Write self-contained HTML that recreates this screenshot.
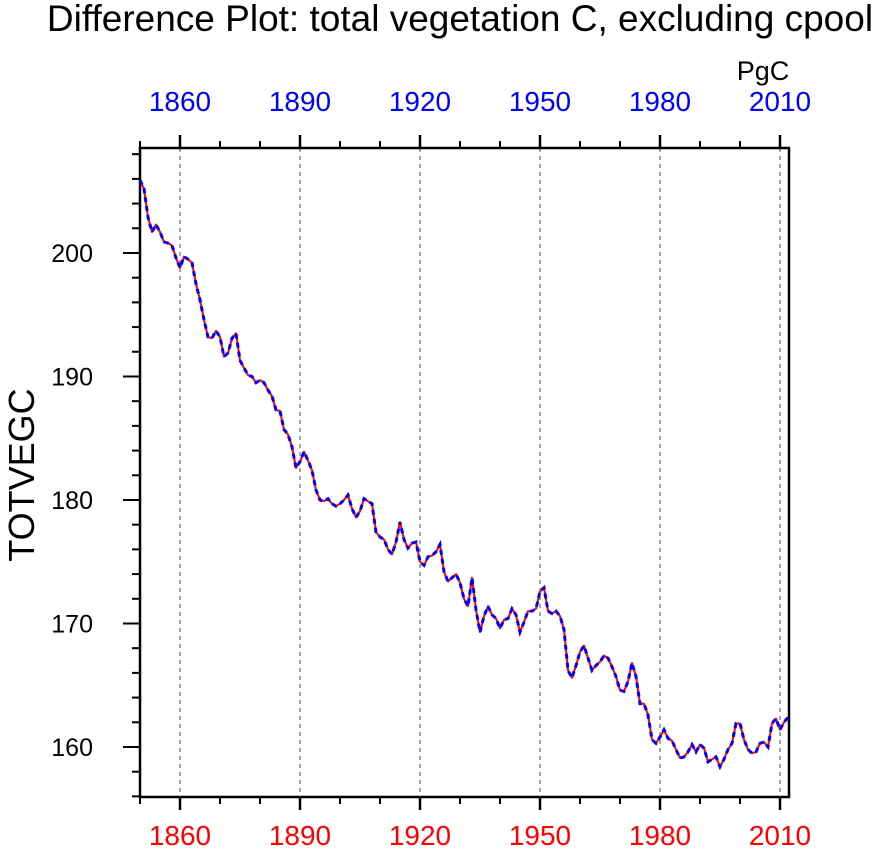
<!DOCTYPE html>
<html><head><meta charset="utf-8"><style>
body{margin:0;background:#fff;}
svg text{font-family:"Liberation Sans",Helvetica,Arial,sans-serif;}
</style></head><body>
<svg id="chart" width="876" height="857" viewBox="0 0 876 857" xmlns="http://www.w3.org/2000/svg">
<text x="460" y="31" font-size="37" text-anchor="middle">Difference Plot: total vegetation C, excluding cpool</text>
<text x="763" y="80" font-size="27" text-anchor="middle">PgC</text>
<text x="34" y="475" font-size="36" text-anchor="middle" transform="rotate(-90 34 475)">TOTVEGC</text>
<g id="grid"></g><g id="axes"></g><g id="series"></g>
</svg>
<script>
const startYear = 1850;
const values = [205.9,205.2,202.9,201.7,202.3,201.7,200.9,200.8,200.6,199.6,
198.8,199.7,199.5,199.2,197.5,196.2,194.6,193.2,193.1,193.7,
193.2,191.6,191.9,193.1,193.5,191.3,190.7,190.1,190.0,189.5,
189.7,189.5,188.9,188.4,187.3,187.2,185.7,185.3,184.3,182.6,
183.1,183.9,183.2,182.4,180.8,180.0,179.9,180.1,179.7,179.5,
179.7,180.0,180.4,179.3,178.6,179.1,180.1,179.9,179.7,177.4,
177.0,176.8,176.0,175.6,176.6,178.2,176.8,176.1,176.5,176.6,
175.0,174.7,175.4,175.5,175.8,176.4,174.2,173.4,173.7,174.0,
173.3,172.0,171.4,173.7,171.1,169.3,170.6,171.4,170.7,170.4,
169.6,170.3,170.4,171.2,170.7,169.3,170.1,171.0,171.0,171.2,
172.6,172.9,171.0,170.8,171.0,170.6,169.5,166.2,165.6,166.6,
167.7,168.2,167.2,166.2,166.6,166.9,167.4,167.2,166.5,165.7,
164.6,164.5,165.3,166.8,165.7,163.5,163.5,162.6,160.6,160.3,
160.8,161.4,160.7,160.5,159.8,159.1,159.2,159.6,160.2,159.6,
160.2,159.9,158.8,159.0,159.2,158.4,159.0,159.8,160.3,161.9,
161.9,160.6,159.8,159.5,159.6,160.3,160.4,160.0,161.9,162.3,
161.4,162.0,162.4];
const xTickYears = [1860,1890,1920,1950,1980,2010];
const xMinorYears = [1850,1870,1880,1900,1910,1930,1940,1960,1970,1990,2000];
const yTickValues = [160,170,180,190,200];
const xDomain = [1850, 2012.25];
const yDomain = [155.95, 208.5];

const L=140,R=789,T=148,B=797;
const NS="http://www.w3.org/2000/svg";
const xs=v=>L+(v-xDomain[0])/(xDomain[1]-xDomain[0])*(R-L);
const ys=v=>B-(v-yDomain[0])/(yDomain[1]-yDomain[0])*(B-T);
function mk(tag,attrs,parent,text){const e=document.createElementNS(NS,tag);for(const k in attrs)e.setAttribute(k,attrs[k]);if(text!==undefined)e.textContent=text;parent.appendChild(e);return e;}
const grid=document.getElementById('grid'),axes=document.getElementById('axes'),series=document.getElementById('series');

xTickYears.forEach(y=>{
 const g=mk('line',{x1:xs(y),x2:xs(y),y1:T,y2:B,stroke:'#777','stroke-width':1.3,'stroke-dasharray':'4,4'},grid);
 
 
 const tb=mk('line',{x1:xs(y),x2:xs(y),y1:B,y2:B+13,stroke:'#000','stroke-width':2.5},axes);
 
 
 const tt=mk('line',{x1:xs(y),x2:xs(y),y1:T,y2:T-13,stroke:'#000','stroke-width':2.5},axes);
 
 
 const lb=mk('text',{x:xs(y),y:845,'font-size':28,'text-anchor':'middle',fill:'#f00'},axes,String(y));
 
 
 const lt=mk('text',{x:xs(y),y:111,'font-size':28,'text-anchor':'middle',fill:'#00f'},axes,String(y));
 
 
});
xMinorYears.forEach(y=>{
 const a=mk('line',{x1:xs(y),x2:xs(y),y1:B,y2:B+7,stroke:'#000','stroke-width':2},axes);
 
 
 const b=mk('line',{x1:xs(y),x2:xs(y),y1:T,y2:T-7,stroke:'#000','stroke-width':2},axes);
 
 
});
for(let v=156;v<=208;v+=2){
 const major=yTickValues.includes(v);
 const t=mk('line',{x1:L-(major?17:8),x2:L,y1:ys(v),y2:ys(v),stroke:'#000','stroke-width':2},axes);
 
 
}
yTickValues.forEach(v=>{
 const lb=mk('text',{x:93,y:ys(v)+9,'font-size':25,'text-anchor':'end'},axes,String(v));
 
 
});
const frame=mk('rect',{x:L,y:T,width:R-L,height:B-T,fill:'none',stroke:'#000','stroke-width':2.5},axes);



const pts=values.map((v,i)=>xs(startYear+i).toFixed(1)+','+ys(v).toFixed(1)).join(' ');
const red=mk('polyline',{points:pts,fill:'none',stroke:'#f00','stroke-width':2,'stroke-linejoin':'round'},series);


const blue=mk('polyline',{points:pts,fill:'none',stroke:'#00f','stroke-width':3,'stroke-dasharray':'5,4'},series);


</script>
</body></html>
